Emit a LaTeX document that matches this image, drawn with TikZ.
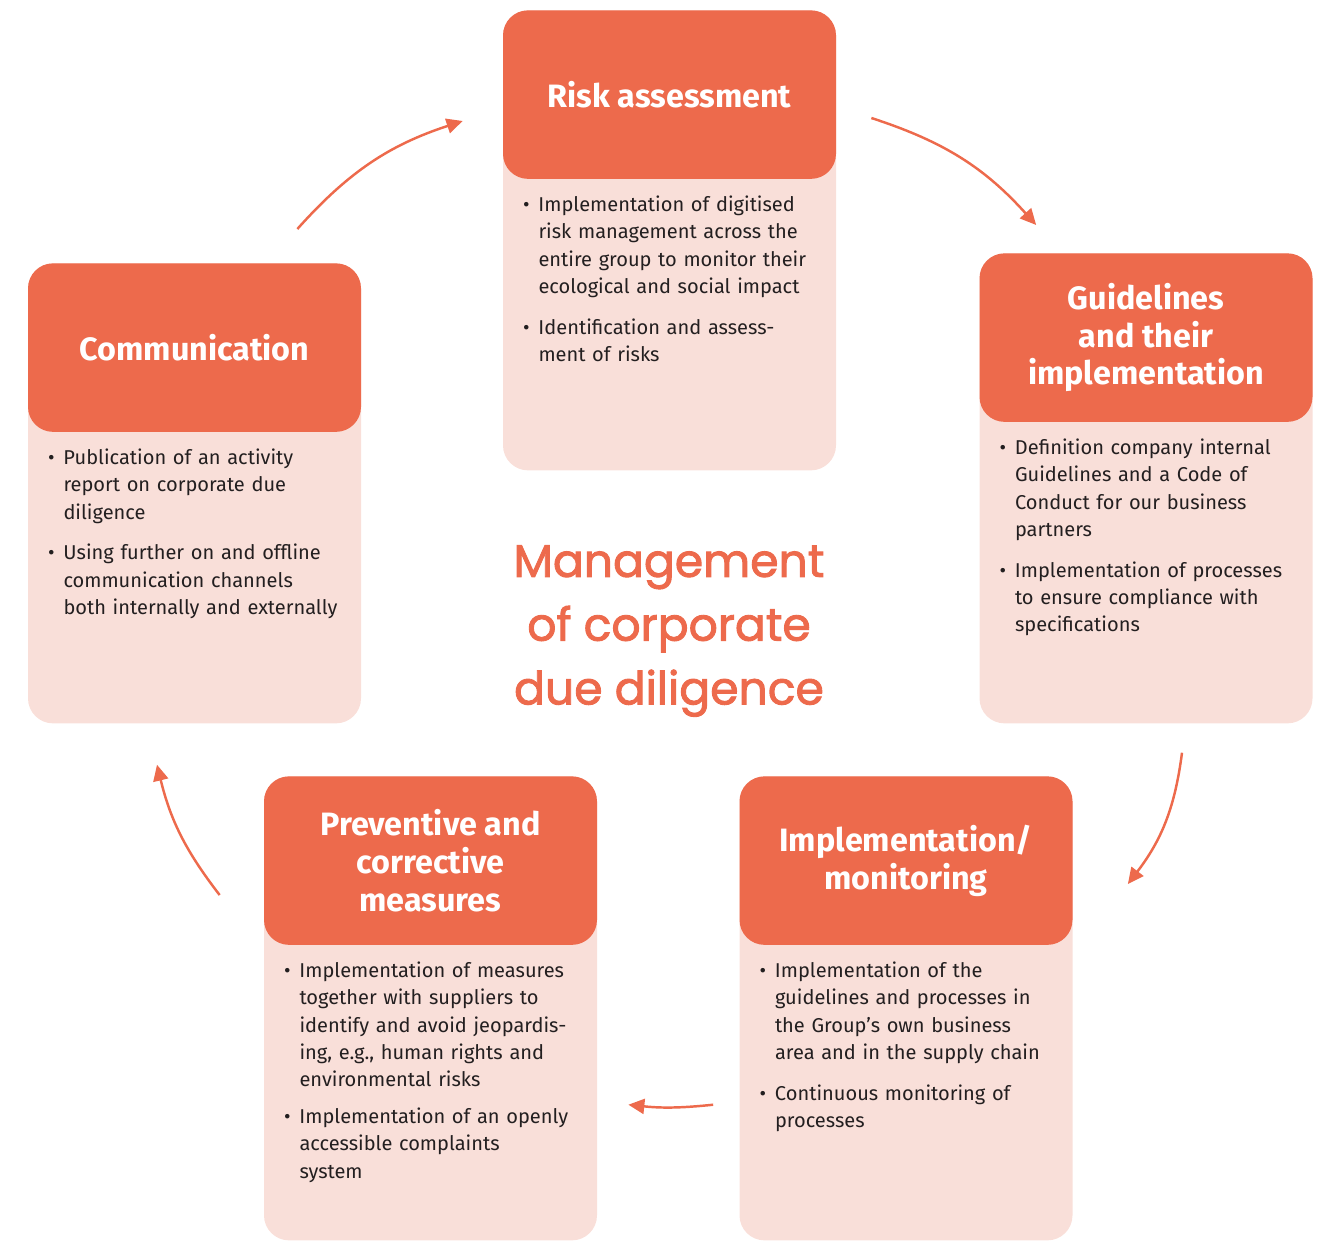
\documentclass[tikz,border=0pt]{standalone}
\usepackage{fontspec}
\setmainfont{Fira Sans}
\newfontfamily\titlefont{Poppins}[FakeBold=2]
\usetikzlibrary{arrows.meta}
\definecolor{duered}{RGB}{237,106,76}
\definecolor{duepink}{RGB}{249,223,217}
\definecolor{duetext}{RGB}{35,31,32}

% one bullet point with hanging indent
\newcommand{\bitem}[1]{\noindent\makebox[0.31cm][l]{\textbullet}\parbox[t]{5.8cm}{\raggedright #1}\par\vspace{0.38cm}}

\begin{document}
\begin{tikzpicture}[
    panel/.style={fill=duepink, rounded corners=0.5cm, minimum width=6.66cm, anchor=north, inner sep=0},
    head/.style={fill=duered, rounded corners=0.5cm, minimum width=6.66cm, minimum height=3.37cm, anchor=north, align=center, text=white, font=\fontsize{18.4}{21.5}\selectfont\bfseries},
    txt/.style={anchor=north west, inner sep=0, text width=6.1cm, align=left, text=duetext, font=\fontsize{11.4}{15.6}\selectfont},
    flow/.style={-{Triangle[length=0.32cm,width=0.3cm]}, duered, line width=1.4pt}
]
    \useasboundingbox (0,0) rectangle (26.5,-24.82);

    % Boxes
    \node[panel, minimum height=9.2cm] (riskbg) at (13.39,-0.2) {};
    \node[head] (risk) at (riskbg.north) {Risk assessment};
    \node[txt] (risktxt) at ([xshift=0.4cm,yshift=-0.32cm]risk.south west) {
        \bitem{Implementation of digitised\\risk management across the\\entire group to monitor their\\ecological and social impact}
        \bitem{Identification and assess-\\ment of risks}
    };

    \node[panel, minimum height=9.4cm] (guidebg) at (22.92,-5.06) {};
    \node[head] (guide) at (guidebg.north) {Guidelines\\and their\\implementation};
    \node[txt] (guidetxt) at ([xshift=0.4cm,yshift=-0.32cm]guide.south west) {
        \bitem{Definition company internal\\Guidelines and a Code of\\Conduct for our business\\partners}
        \bitem{Implementation of processes\\to ensure compliance with\\specifications}
    };

    \node[panel, minimum height=9.2cm] (commbg) at (3.89,-5.26) {};
    \node[head] (comm) at (commbg.north) {Communication};
    \node[txt] (commtxt) at ([xshift=0.4cm,yshift=-0.32cm]comm.south west) {
        \bitem{Publication of an activity\\report on corporate due\\diligence}
        \bitem{Using further on and offline\\communication channels\\both internally and externally}
    };

    \node[panel, minimum height=9.28cm] (prevbg) at (8.61,-15.52) {};
    \node[head] (prev) at (prevbg.north) {Preventive and\\corrective\\measures};
    \node[txt] (prevtxt) at ([xshift=0.4cm,yshift=-0.32cm]prev.south west) {
        \bitem{Implementation of measures\\together with suppliers to\\identify and avoid jeopardis-\\ing, e.g., human rights and\\environmental risks}
        \bitem{Implementation of an openly\\accessible complaints\\system}
    };

    \node[panel, minimum height=9.28cm] (implbg) at (18.12,-15.52) {};
    \node[head] (impl) at (implbg.north) {Implementation/\\monitoring};
    \node[txt] (impltxt) at ([xshift=0.4cm,yshift=-0.32cm]impl.south west) {
        \bitem{Implementation of the\\guidelines and processes in\\the Group’s own business\\area and in the supply chain}
        \bitem{Continuous monitoring of\\processes}
    };

    % Centre title
    \node[font=\titlefont\fontsize{26}{36.3}\selectfont, text=duered, align=center] (title) at (13.38,-12.62) {Management\\of corporate\\due diligence};

    % Arrows
    \draw[flow] ([xshift=-1.28cm,yshift=0.68cm]comm.north east) to[bend left=15] ([xshift=-0.8cm,yshift=-2.22cm]risk.north west);
    \draw[flow] ([xshift=0.7cm,yshift=-2.16cm]risk.north east) to[bend left=15] ([xshift=1.14cm,yshift=0.56cm]guide.north west);
    \draw[flow] ([xshift=0.72cm,yshift=-0.58cm]guidebg.south) to[bend left=15] ([xshift=1.1cm,yshift=-2.16cm]impl.north east);
    \draw[flow] ([xshift=-0.52cm,yshift=2.72cm]implbg.south west) to[bend left=6] ([xshift=0.62cm,yshift=2.72cm]prevbg.south east);
    \draw[flow] ([xshift=-0.88cm,yshift=-2.38cm]prev.north west) to[bend left=12] ([xshift=-0.75cm,yshift=-0.82cm]commbg.south);
\end{tikzpicture}
\end{document}
